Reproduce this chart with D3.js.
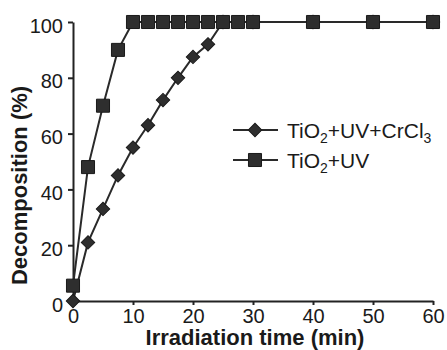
<!doctype html>
<html>
<head>
<meta charset="utf-8">
<style>
	body {
		margin: 0;
		background: #fff;
	}
	text {
		font-family: "Liberation Sans", Arial, sans-serif;
		fill: #1a1a1a;
	}
	.axis path, .axis line {
		stroke: #222;
		stroke-width: 2px;
	}
	.axis text {
		font-size: 20px;
	}
	.title {
		font-size: 22px;
		font-weight: bold;
	}
	.line {
		fill: none;
		stroke: #2a2a2a;
		stroke-width: 2px;
	}
	.mark {
		fill: #2e2e2e;
		stroke: #1a1a1a;
		stroke-width: 1px;
	}
	.lgd-text {
		font-size: 21px;
	}
</style>
<script src="https://d3js.org/d3.v7.min.js"></script>
</head>
<body>
<div id="canvas"></div>
<script>
	// TiO2+UV+CrCl3 (diamonds)
	var time_cr = [0, 2.5, 5, 7.5, 10, 12.5, 15, 17.5, 20, 22.5, 25, 30, 40, 50, 60];
	var decomp_cr = [0, 21, 33, 45, 55, 63, 72, 80, 87.5, 92, 100, 100, 100, 100, 100];
	// TiO2+UV (squares)
	var time_uv = [0, 2.5, 5, 7.5, 10, 12.5, 15, 17.5, 20, 22.5, 25, 27.5, 30, 40, 50, 60];
	var decomp_uv = [5.5, 48, 70, 90, 100, 100, 100, 100, 100, 100, 100, 100, 100, 100, 100, 100];
	var x_ticks = [0, 10, 20, 30, 40, 50, 60];
	var y_ticks = [0, 20, 40, 60, 80, 100];

	var width = 447,
		height = 350,
		margin = {top: 22, right: 14, bottom: 49, left: 73};

	var svg = d3.select("#canvas")
		.append("svg")
		.attr("width", width)
		.attr("height", height);

	var scale_x = d3.scaleLinear()
		.domain([0, 60])
		.range([margin.left, width - margin.right]);

	var scale_y = d3.scaleLinear()
		.domain([0, 100])
		.range([height - margin.bottom, margin.top]);

	var axis_x = d3.axisBottom(scale_x)
		.tickValues(x_ticks)
		.tickSize(4)
		.tickSizeOuter(0)
		.tickPadding(4);

	var axis_y = d3.axisLeft(scale_y)
		.tickValues(y_ticks)
		.tickSize(5)
		.tickSizeOuter(0)
		.tickPadding(5);

	svg.append("g")
		.attr("class", "axis")
		.attr("transform", `translate(0, ${height - margin.bottom})`)
		.call(axis_x);

	var gy = svg.append("g")
		.attr("class", "axis")
		.attr("transform", `translate(${margin.left}, 0)`)
		.call(axis_y);
	gy.selectAll("text").attr("dy", "0.5em");

	svg.append("text")
		.attr("class", "title")
		.attr("x", (margin.left + width - margin.right) / 2 + 2)
		.attr("y", 345)
		.attr("text-anchor", "middle")
		.text("Irradiation time (min)");

	svg.append("text")
		.attr("class", "title")
		.attr("transform", `translate(27, ${(height - margin.bottom + margin.top) / 2 + 24}) rotate(-90)`)
		.attr("text-anchor", "middle")
		.text("Decomposition (%)");

	var line = d3.line()
		.x(d => scale_x(d[0]))
		.y(d => scale_y(d[1]));

	var data_cr = time_cr.map((t, i) => [t, decomp_cr[i]]);
	var data_uv = time_uv.map((t, i) => [t, decomp_uv[i]]);

	var diamond = d3.symbol().type(d3.symbolSquare).size(90);
	var square = d3.symbol().type(d3.symbolSquare).size(170);

	// diamonds first, squares on top
	svg.append("path")
		.datum(data_cr)
		.attr("class", "line")
		.attr("d", line);

	svg.selectAll(".dia")
		.data(data_cr).enter()
		.append("path")
		.attr("class", "mark dia")
		.attr("d", diamond)
		.attr("transform", d => `translate(${scale_x(d[0])}, ${scale_y(d[1])}) rotate(45)`);

	svg.append("path")
		.datum(data_uv)
		.attr("class", "line")
		.attr("d", line);

	svg.selectAll(".sq")
		.data(data_uv).enter()
		.append("path")
		.attr("class", "mark sq")
		.attr("d", square)
		.attr("transform", d => `translate(${scale_x(d[0])}, ${scale_y(d[1])})`);

	// legend
	var legend = [
		{name: "TiO", sub1: "2", rest: "+UV+CrCl", sub2: "3", sym: diamond, rot: 45, y: 130},
		{name: "TiO", sub1: "2", rest: "+UV", sub2: "", sym: square, rot: 0, y: 160}
	];

	var lg = svg.selectAll(".lgd")
		.data(legend).enter()
		.append("g")
		.attr("class", "lgd")
		.attr("transform", d => `translate(0, ${d.y})`);

	lg.append("line")
		.attr("class", "line")
		.attr("x1", 233).attr("x2", 278)
		.attr("y1", 0).attr("y2", 0);

	lg.append("path")
		.attr("class", "mark")
		.attr("d", d => d.sym())
		.attr("transform", d => `translate(255, 0) rotate(${d.rot})`);

	var lt = lg.append("text")
		.attr("class", "lgd-text")
		.attr("x", 287)
		.attr("y", 8);
	lt.append("tspan").text(d => d.name);
	lt.append("tspan").attr("dy", 5).attr("font-size", "14px").text(d => d.sub1);
	lt.append("tspan").attr("dy", -5).text(d => d.rest);
	lt.append("tspan").attr("dy", 5).attr("font-size", "14px").text(d => d.sub2);
</script>
</body>
</html>
